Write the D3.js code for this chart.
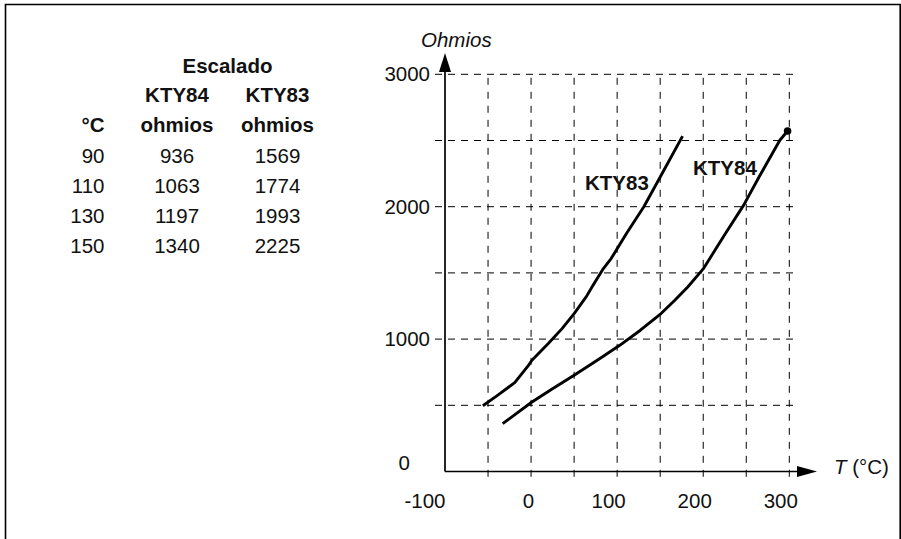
<!DOCTYPE html>
<html>
<head>
<meta charset="utf-8">
<script src="https://cdn.jsdelivr.net/npm/d3@7"></script>
<style>
  html, body { margin: 0; padding: 0; background: #fff; }
  svg { display: block; }
  text { font-family: "Liberation Sans", Arial, Helvetica, sans-serif; fill: #111; }
</style>
</head>
<body>
<svg id="chart" width="901" height="539"></svg>
<script>
// Resistance curves of the KTY sensors (temperature in °C, resistance in ohms)
const kty83Temp = [-56, -39, -19, -3, 1, 20, 36, 50, 64, 72, 84, 93, 111, 131, 147, 176];
const kty83Ohm  = [497, 575, 671, 802, 840, 966, 1079, 1193, 1319, 1407, 1533, 1608, 1799, 2000, 2188, 2533];
const kty84Temp = [-33, 1, 24, 50, 80, 103, 127, 151, 167, 182, 200, 226, 247, 265, 289, 298];
const kty84Ohm  = [361, 525, 621, 727, 853, 953, 1067, 1193, 1293, 1394, 1530, 1799, 2012, 2226, 2502, 2572];

// Scaled table values
const tableTemp  = [90, 110, 130, 150];
const tableKTY84 = [936, 1063, 1197, 1340];
const tableKTY83 = [1569, 1774, 1993, 2225];

// Axis ticks and grid
const xTickValues = [-100, 0, 100, 200, 300];
const yTickValues = [0, 1000, 2000, 3000];
const xGridValues = [-50, 0, 50, 100, 150, 200, 250, 300];
const yGridValues = [500, 1000, 1500, 2000, 2500, 3000];

const svg = d3.select("#chart");
const FS = 20.5;
const plain = d => String(d);   // keeps the ASCII hyphen for negatives

const x = d3.scaleLinear().domain([-100, 300]).range([445, 789.3]);
const y = d3.scaleLinear().domain([0, 3000]).range([471.5, 74.3]);

// outer frame
svg.append("path")
  .attr("d", "M5.5,539 V4.5 H900.2 V539")
  .attr("fill", "none").attr("stroke", "#000").attr("stroke-width", 1.6);

// ---- table ----
const tbl = svg.append("g").attr("font-size", FS);
const colT = 104.5, col84 = 177, col83 = 277.5;
tbl.append("text").attr("x", 227.5).attr("y", 72.5).attr("text-anchor", "middle")
  .attr("font-weight", "bold").text("Escalado");
tbl.append("text").attr("x", col84).attr("y", 102).attr("text-anchor", "middle")
  .attr("font-weight", "bold").text("KTY84");
tbl.append("text").attr("x", col83).attr("y", 102).attr("text-anchor", "middle")
  .attr("font-weight", "bold").text("KTY83");
tbl.append("text").attr("x", colT).attr("y", 132).attr("text-anchor", "end")
  .attr("font-weight", "bold").text("°C");
tbl.append("text").attr("x", col84).attr("y", 132).attr("text-anchor", "middle")
  .attr("font-weight", "bold").text("ohmios");
tbl.append("text").attr("x", col83).attr("y", 132).attr("text-anchor", "middle")
  .attr("font-weight", "bold").text("ohmios");
tableTemp.forEach((t, i) => {
  const yy = 163.3 + i * 29.8;
  tbl.append("text").attr("x", colT).attr("y", yy).attr("text-anchor", "end").text(t);
  tbl.append("text").attr("x", col84).attr("y", yy).attr("text-anchor", "middle").text(tableKTY84[i]);
  tbl.append("text").attr("x", col83).attr("y", yy).attr("text-anchor", "middle").text(tableKTY83[i]);
});

// ---- grid ----
const grid = svg.append("g").attr("stroke", "#000").attr("stroke-width", 1).attr("fill", "none");
grid.selectAll(".hg").data(yGridValues).join("line")
  .attr("x1", 435).attr("x2", 796)
  .attr("y1", d => y(d)).attr("y2", d => y(d))
  .attr("stroke-dasharray", "7,6");
grid.selectAll(".vg").data(xGridValues).join("line")
  .attr("x1", d => x(d)).attr("x2", d => x(d))
  .attr("y1", y(3000) + 3.5).attr("y2", 482)
  .attr("stroke-dasharray", "7,7");

// ---- axes ----
const axisG = svg.append("g");
axisG.append("line").attr("x1", x(-100)).attr("x2", x(-100))
  .attr("y1", y(0)).attr("y2", 70).attr("stroke", "#000").attr("stroke-width", 1.7);
axisG.append("line").attr("x1", x(-100)).attr("x2", 799)
  .attr("y1", y(0)).attr("y2", y(0)).attr("stroke", "#000").attr("stroke-width", 1.7);
axisG.append("path")
  .attr("d", `M${x(-100)},53 L${x(-100) - 6},72 L${x(-100) + 6},72 Z`).attr("fill", "#000");
axisG.append("path")
  .attr("d", `M817,${y(0)} L797,${y(0) - 5.5} L797,${y(0) + 5.5} Z`).attr("fill", "#000");

const yAxis = svg.append("g")
  .attr("transform", `translate(${x(-100)},0)`)
  .call(d3.axisLeft(y).tickValues(yTickValues).tickSize(0).tickPadding(15).tickFormat(plain));
yAxis.select(".domain").remove();
yAxis.selectAll("text").attr("font-size", FS).attr("font-family", null).attr("fill", "#111");
yAxis.selectAll(".tick").filter(d => d === 0).select("text")
  .attr("x", -35).attr("dy", "-0.1em");

const xAxis = svg.append("g")
  .attr("transform", `translate(0,${y(0)})`)
  .call(d3.axisBottom(x).tickValues(xTickValues).tickSize(0).tickPadding(22).tickFormat(plain));
xAxis.select(".domain").remove();
xAxis.selectAll("text").attr("font-size", FS).attr("font-family", null).attr("fill", "#111")
  .attr("dx", d => d === 0 ? -3 : -9);
xAxis.selectAll(".tick").filter(d => d === -100).select("text")
  .attr("text-anchor", "end").attr("dx", 0);

// axis titles
svg.append("text").attr("x", 421).attr("y", 47).attr("font-size", FS)
  .attr("font-style", "italic").text("Ohmios");
const tt = svg.append("text").attr("x", 834).attr("y", 474).attr("font-size", FS);
tt.append("tspan").attr("font-style", "italic").text("T");
tt.append("tspan").text(" (°C)");

// ---- curves ----
const line = d3.line().x(d => x(d[0])).y(d => y(d[1])).curve(d3.curveLinear);
const kty83 = kty83Temp.map((t, i) => [t, kty83Ohm[i]]);
const kty84 = kty84Temp.map((t, i) => [t, kty84Ohm[i]]);
svg.append("path").datum(kty83).attr("d", line)
  .attr("fill", "none").attr("stroke", "#000").attr("stroke-width", 2.9).attr("stroke-linejoin", "round");
svg.append("path").datum(kty84).attr("d", line)
  .attr("fill", "none").attr("stroke", "#000").attr("stroke-width", 2.9).attr("stroke-linejoin", "round");
const last = kty84[kty84.length - 1];
svg.append("circle").attr("cx", x(last[0])).attr("cy", y(last[1])).attr("r", 3.8).attr("fill", "#000");

// curve labels
svg.append("text").attr("x", 585).attr("y", 190).attr("font-size", FS)
  .attr("font-weight", "bold").text("KTY83");
svg.append("text").attr("x", 693).attr("y", 175).attr("font-size", FS)
  .attr("font-weight", "bold").text("KTY84");
</script>
</body>
</html>
